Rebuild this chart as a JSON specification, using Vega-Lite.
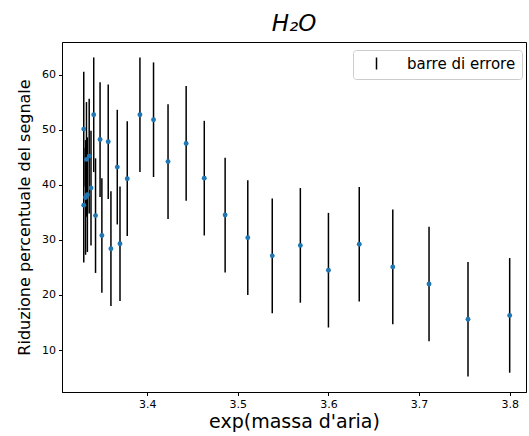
{
  "$schema": "https://vega.github.io/schema/vega-lite/v6.json",
  "width": 464,
  "height": 350,
  "autosize": "none",
  "padding": {"left": 62, "top": 42, "right": 3, "bottom": 44},
  "background": "white",
  "title": {"text": "H₂O", "fontSize": 23, "fontStyle": "italic", "fontWeight": "normal", "font": "DejaVu Sans", "color": "black", "anchor": "middle", "offset": 6},
  "config": {
    "font": "DejaVu Sans",
    "view": {"stroke": "black", "strokeWidth": 1},
    "axis": {"grid": false, "domainColor": "black", "tickColor": "black", "tickSize": 3.5, "labelColor": "black", "labelFontSize": 11, "titleColor": "black", "titleFontWeight": "normal", "labelPadding": 3}
  },
  "data": {"values": [
    {"x": 3.330, "y": 50.1, "lo": 39.7, "hi": 60.5},
    {"x": 3.341, "y": 52.7, "lo": 42.3, "hi": 63.1},
    {"x": 3.333, "y": 44.6, "lo": 34.2, "hi": 55.0},
    {"x": 3.336, "y": 45.2, "lo": 34.8, "hi": 55.6},
    {"x": 3.348, "y": 48.2, "lo": 37.8, "hi": 58.6},
    {"x": 3.357, "y": 47.8, "lo": 37.4, "hi": 58.2},
    {"x": 3.338, "y": 39.4, "lo": 29.0, "hi": 49.8},
    {"x": 3.334, "y": 38.2, "lo": 27.8, "hi": 48.6},
    {"x": 3.332, "y": 37.7, "lo": 27.3, "hi": 48.1},
    {"x": 3.330, "y": 36.3, "lo": 25.9, "hi": 46.7},
    {"x": 3.343, "y": 34.4, "lo": 24.0, "hi": 44.8},
    {"x": 3.350, "y": 30.8, "lo": 20.4, "hi": 41.2},
    {"x": 3.360, "y": 28.4, "lo": 18.0, "hi": 38.8},
    {"x": 3.370, "y": 29.3, "lo": 18.9, "hi": 39.7},
    {"x": 3.367, "y": 43.2, "lo": 32.8, "hi": 53.6},
    {"x": 3.378, "y": 41.1, "lo": 30.7, "hi": 51.5},
    {"x": 3.392, "y": 52.7, "lo": 42.3, "hi": 63.1},
    {"x": 3.407, "y": 51.8, "lo": 41.4, "hi": 62.2},
    {"x": 3.423, "y": 44.2, "lo": 33.8, "hi": 54.6},
    {"x": 3.443, "y": 47.5, "lo": 37.1, "hi": 57.9},
    {"x": 3.463, "y": 41.2, "lo": 30.8, "hi": 51.6},
    {"x": 3.486, "y": 34.5, "lo": 24.1, "hi": 44.9},
    {"x": 3.511, "y": 30.4, "lo": 20.0, "hi": 40.8},
    {"x": 3.538, "y": 27.1, "lo": 16.7, "hi": 37.5},
    {"x": 3.569, "y": 29.0, "lo": 18.6, "hi": 39.4},
    {"x": 3.600, "y": 24.5, "lo": 14.1, "hi": 34.9},
    {"x": 3.634, "y": 29.2, "lo": 18.8, "hi": 39.6},
    {"x": 3.671, "y": 25.1, "lo": 14.7, "hi": 35.5},
    {"x": 3.711, "y": 22.0, "lo": 11.6, "hi": 32.4},
    {"x": 3.754, "y": 15.6, "lo": 5.2, "hi": 26.0},
    {"x": 3.800, "y": 16.3, "lo": 5.9, "hi": 26.7}
  ]},
  "layer": [
    {
      "mark": {"type": "rule", "strokeWidth": 1.5},
      "encoding": {
        "x": {"field": "x", "type": "quantitative", "scale": {"domain": [3.306, 3.818], "nice": false, "zero": false},
              "axis": {"title": "exp(massa d'aria)", "titleFontSize": 19, "values": [3.4, 3.5, 3.6, 3.7, 3.8], "format": ".1f", "titlePadding": 3}},
        "y": {"field": "lo", "type": "quantitative", "scale": {"domain": [2.4, 65.9], "nice": false, "zero": false},
              "axis": {"title": "Riduzione percentuale del segnale", "titleFontSize": 16, "values": [10, 20, 30, 40, 50, 60], "titlePadding": 9}},
        "y2": {"field": "hi"},
        "color": {"datum": "barre di errore", "type": "nominal", "scale": {"range": ["black"]},
                  "legend": {"title": null, "orient": "none", "legendX": 291, "legendY": 8, "symbolType": "M0,-1L0,1", "symbolSize": 144, "symbolStrokeWidth": 1.5, "symbolStrokeColor": "black", "symbolFillColor": "transparent", "labelFontSize": 15, "labelColor": "black", "labelOffset": 23, "symbolOffset": 10, "padding": 6, "strokeColor": "#cccccc", "fillColor": "white", "cornerRadius": 3}}
      }
    },
    {
      "mark": {"type": "circle", "color": "#1f77b4", "opacity": 1, "size": 24},
      "encoding": {
        "x": {"field": "x", "type": "quantitative"},
        "y": {"field": "y", "type": "quantitative"}
      }
    }
  ]
}
